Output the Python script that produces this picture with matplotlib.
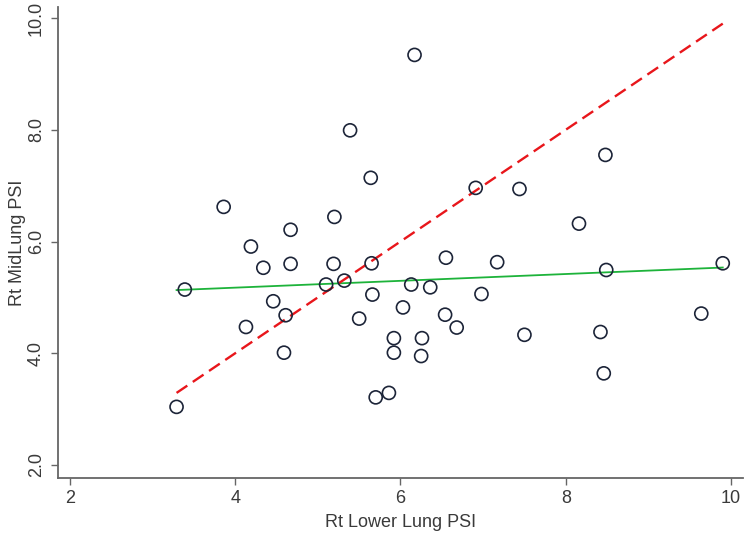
import matplotlib
matplotlib.use("Agg")
import matplotlib.pyplot as plt
import numpy as np

plt.rcParams["font.family"] = ["Liberation Sans", "DejaVu Sans"]

# Rt Lower Lung PSI (x) vs Rt MidLung PSI (y)
lower_psi = [3.29, 3.39, 3.86, 4.19, 4.34, 4.46, 4.13, 4.61, 4.59, 4.67,
             4.67, 5.20, 5.19, 5.10, 5.32, 5.39, 5.64, 5.65, 5.66, 5.50,
             5.70, 5.86, 5.92, 5.92, 6.03, 6.13, 6.17, 6.25, 6.26, 6.36,
             6.54, 6.55, 6.68, 6.91, 6.98, 7.17, 7.44, 7.50, 8.16, 8.42,
             8.46, 8.48, 8.49, 9.64, 9.90]
mid_psi = [3.04, 5.14, 6.62, 5.91, 5.53, 4.93, 4.47, 4.68, 4.01, 6.21,
           5.60, 6.44, 5.60, 5.23, 5.30, 7.99, 7.14, 5.61, 5.05, 4.62,
           3.21, 3.29, 4.27, 4.01, 4.82, 5.23, 9.34, 3.95, 4.27, 5.18,
           4.69, 5.71, 4.46, 6.96, 5.06, 5.63, 6.94, 4.33, 6.32, 4.38,
           3.64, 7.55, 5.49, 4.71, 5.61]

# fitted line (intercept, slope)
fit_intercept = 4.93
fit_slope = 0.061

x_ticks = [2, 4, 6, 8, 10]
y_ticks = [2.0, 4.0, 6.0, 8.0, 10.0]

fig = plt.figure(figsize=(7.49, 5.37), dpi=100)
ax = fig.add_axes([0.0774, 0.1099, 0.9146, 0.877])

x = np.array(lower_psi)
y = np.array(mid_psi)
xr = np.array([x.min(), x.max()])

ax.plot(xr, fit_intercept + fit_slope * xr, color="#1db33a", lw=1.3, zorder=2)
ax.plot(xr, xr, color="#e8161b", lw=1.7, dashes=(5.5, 2.8), zorder=2)
ax.scatter(x, y, s=88, facecolors="none", edgecolors="#1c2438",
           linewidths=1.2, zorder=3)

ax.set_xlim(1.855, 10.145)
ax.set_ylim(1.767, 10.197)
ax.set_xticks(x_ticks)
ax.set_yticks(y_ticks)
ax.set_xticklabels([str(t) for t in x_ticks])
ax.set_yticklabels([f"{t:.1f}" for t in y_ticks], rotation=90, va="center")

for side in ["top", "right"]:
    ax.spines[side].set_visible(False)
for side in ["left", "bottom"]:
    ax.spines[side].set_color("#666666")
    ax.spines[side].set_linewidth(1.3)

ax.tick_params(colors="#666666", width=1.0, length=5, labelsize=13,
               labelcolor="#3a3a3a")
ax.tick_params(axis="y", pad=4.5)

ax.set_xlabel("Rt Lower Lung PSI", fontsize=13, color="#3a3a3a", labelpad=5)
ax.set_ylabel("Rt MidLung PSI", fontsize=13, color="#3a3a3a", labelpad=1)

fig.savefig("out.png", dpi=100)
